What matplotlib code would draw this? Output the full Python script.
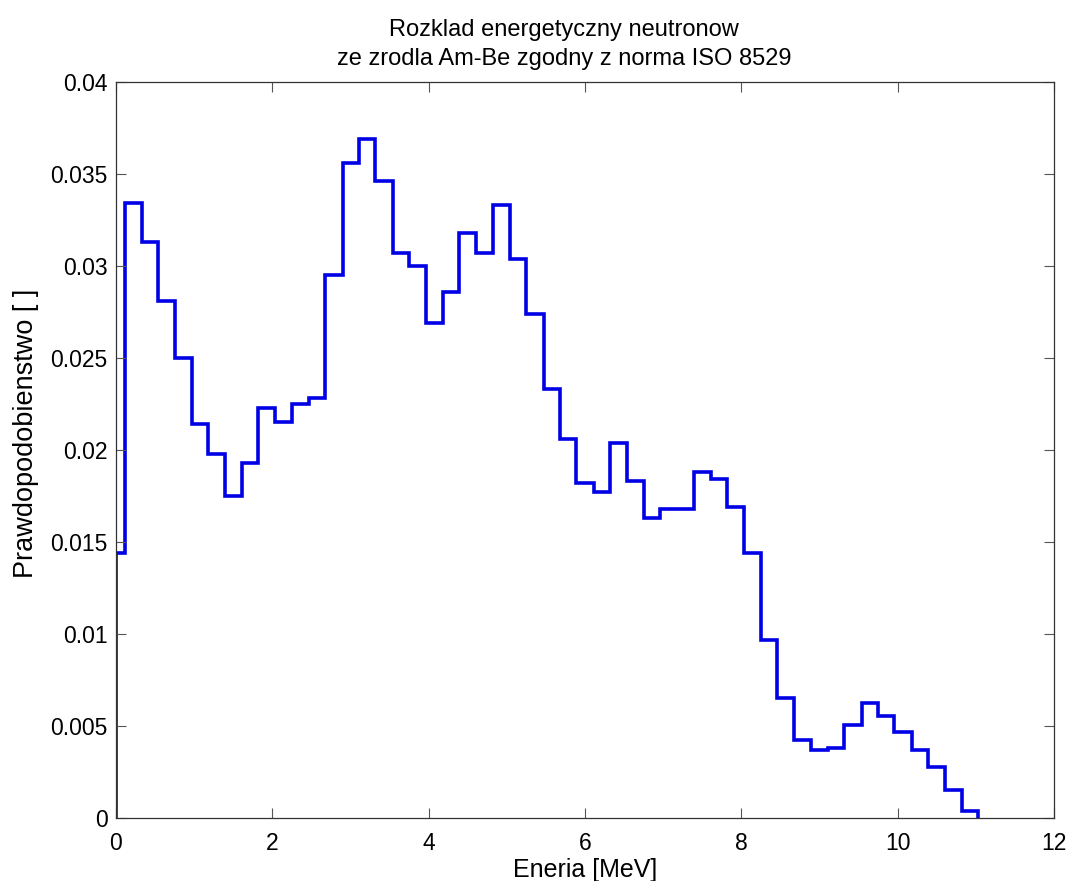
import matplotlib
matplotlib.use("Agg")
import matplotlib.pyplot as plt
import numpy as np

# ISO 8529 Am-Be spectrum: bin edges [MeV] and bin probabilities
edges = [0.0, 0.11, 0.33, 0.54, 0.75, 0.97, 1.18, 1.40, 1.61, 1.82, 2.04, 2.25,
         2.47, 2.68, 2.90, 3.11, 3.32, 3.54, 3.75, 3.97, 4.18, 4.39, 4.61, 4.82,
         5.04, 5.25, 5.47, 5.68, 5.89, 6.11, 6.32, 6.54, 6.75, 6.96, 7.18, 7.39,
         7.61, 7.82, 8.03, 8.25, 8.46, 8.68, 8.89, 9.11, 9.32, 9.54, 9.75, 9.96,
         10.18, 10.39, 10.60, 10.82, 11.03]
prob = [0.0144, 0.0334, 0.0313, 0.0281, 0.0250, 0.0214, 0.0198, 0.0175, 0.0193,
        0.0223, 0.0215, 0.0225, 0.0228, 0.0295, 0.0356, 0.0369, 0.0346, 0.0307,
        0.0300, 0.0269, 0.0286, 0.0318, 0.0307, 0.0333, 0.0304, 0.0274, 0.0233,
        0.0206, 0.0182, 0.0177, 0.0204, 0.0183, 0.0163, 0.0168, 0.0168, 0.0188,
        0.0184, 0.0169, 0.0144, 0.00968, 0.00652, 0.00426, 0.00367, 0.00381,
        0.00506, 0.00625, 0.00552, 0.00468, 0.00370, 0.00278, 0.00151, 0.00036]

yticks = [0, 0.005, 0.01, 0.015, 0.02, 0.025, 0.03, 0.035, 0.04]
ytick_labels = ['0', '0.005', '0.01', '0.015', '0.02', '0.025', '0.03', '0.035', '0.04']

plt.rcParams['font.family'] = ['Liberation Sans', 'DejaVu Sans']

fig = plt.figure(figsize=(10.7, 8.81), dpi=100)
ax = fig.add_axes([0.1084, 0.0715, 0.8766, 0.8355])

ax.stairs(prob, edges, baseline=0, color='#0000e6', linewidth=2.6)

ax.set_xlim(0, 12)
ax.set_ylim(0, 0.04)
ax.set_xticks(np.arange(0, 13, 2))
ax.set_yticks(yticks)
ax.set_yticklabels(ytick_labels)
ax.tick_params(direction='in', length=7, width=0.8, labelsize=16.5, top=True, right=True,
               color='#555555')
ax.tick_params(axis='x', pad=10)
ax.tick_params(axis='y', pad=6)
for s in ax.spines.values():
    s.set_linewidth(0.9)
    s.set_color('#333333')

ax.set_xlabel('Eneria [MeV]', fontsize=18, labelpad=2)
ax.set_ylabel('Prawdopodobienstwo [ ]', fontsize=19.5)
ax.yaxis.set_label_coords(-0.082, 0.523)
ax.set_title('Rozklad energetyczny neutronow\nze zrodla Am-Be zgodny z norma ISO 8529',
             fontsize=17, pad=12, linespacing=1.45, x=0.478)

fig.savefig('out.png', dpi=100)
